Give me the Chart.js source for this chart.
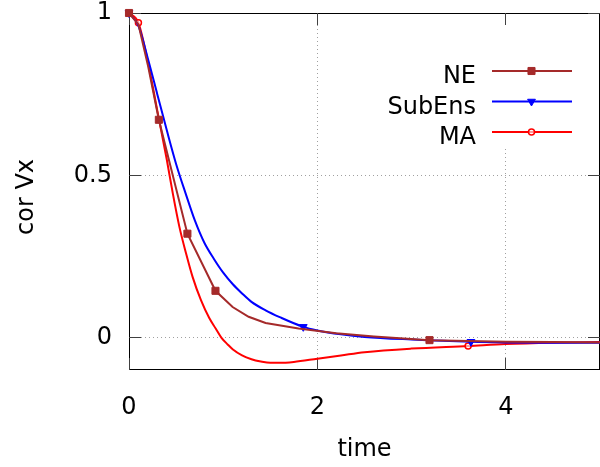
<!DOCTYPE html>
<html><head><meta charset="utf-8">
<script src="https://cdn.jsdelivr.net/npm/chart.js@4"></script>
<style>html,body{margin:0;padding:0;background:#fff}#c{display:block}</style>
</head><body>
<canvas id="c" width="600" height="467"></canvas>
<script>
// ---- data ----
const seriesNames = ['NE', 'SubEns', 'MA'];

const neTime = [0, 0.1, 0.2, 0.317, 0.62, 0.918, 1.1, 1.27, 1.45, 1.8, 2.2, 2.6, 3.19, 3.6, 4.0, 4.5, 5.0];
const neVal  = [1.0, 0.965, 0.84, 0.671, 0.32, 0.144, 0.094, 0.064, 0.045, 0.028, 0.013, 0.003, -0.008, -0.011, -0.013, -0.014, -0.015];
const neMarkers = [0, 3, 4, 5, 12];

const subTime = [0, 0.1, 0.2, 0.3, 0.4, 0.5, 0.6, 0.7, 0.8, 0.9, 1.0, 1.1, 1.2, 1.3, 1.45, 1.6, 1.85, 2.0, 2.25, 2.5, 3.0, 3.63, 4.0, 4.5, 5.0];
const subVal  = [1.0, 0.96, 0.86, 0.75, 0.64, 0.535, 0.445, 0.36, 0.292, 0.243, 0.2, 0.165, 0.136, 0.11, 0.084, 0.063, 0.033, 0.022, 0.01, 0.002, -0.006, -0.013, -0.015, -0.016, -0.016];
const subMarkers = [0, 16, 21];

const maTime = [0, 0.1, 0.2, 0.3, 0.4, 0.465, 0.535, 0.606, 0.675, 0.764, 0.852, 0.92, 0.98, 1.05, 1.1, 1.2, 1.3, 1.4, 1.5, 1.6, 1.75, 2.0, 2.25, 2.5, 3.0, 3.6, 4.0, 4.5, 5.0];
const maVal  = [1.0, 0.97, 0.85, 0.70, 0.55, 0.444, 0.341, 0.259, 0.187, 0.115, 0.06, 0.028, 0.0, -0.022, -0.036, -0.055, -0.067, -0.074, -0.078, -0.078, -0.075, -0.065, -0.055, -0.045, -0.034, -0.026, -0.02, -0.016, -0.014];
const maMarkers = [1, 25];

const xTicks = [0, 2, 4];
const yTicks = [0, 0.5, 1];
const xTitle = 'time';
const yTitle = 'cor Vx';

// ---- styling ----
const FONT = 'DejaVu Sans';
const colors = ['#a52a2a', '#0000ff', '#ff0000'];

function pts(t, v) { return t.map((x, i) => ({x: x, y: v[i]})); }
function radii(n, idx, r) { const a = new Array(n).fill(0); idx.forEach(i => a[i] = r); return a; }

const datasets = [
  {label: seriesNames[0], data: pts(neTime, neVal), borderColor: colors[0], backgroundColor: colors[0],
   borderWidth: 2, tension: 0, pointStyle: 'rect', pointRadius: radii(neTime.length, neMarkers, 5),
   pointBackgroundColor: colors[0], pointBorderColor: colors[0], pointBorderWidth: 1, clip: false},
  {label: seriesNames[1], data: pts(subTime, subVal), borderColor: colors[1], backgroundColor: colors[1],
   borderWidth: 2, cubicInterpolationMode: 'monotone', pointStyle: 'triangle', pointRotation: 180,
   pointRadius: radii(subTime.length, subMarkers, 4.5), pointBackgroundColor: colors[1], pointBorderColor: colors[1],
   pointBorderWidth: 1, clip: false},
  {label: seriesNames[2], data: pts(maTime, maVal), borderColor: colors[2], backgroundColor: colors[2],
   borderWidth: 2, cubicInterpolationMode: 'monotone', pointStyle: 'circle',
   pointRadius: radii(maTime.length, maMarkers, 3), pointBackgroundColor: 'rgba(255,255,255,0.6)', pointBorderColor: colors[2],
   pointBorderWidth: 1.5, clip: false}
];

function drawMarker(ctx, ds, x, y) {
  const r = Math.max.apply(null, ds.pointRadius);
  ctx.fillStyle = ds.pointBackgroundColor;
  ctx.strokeStyle = ds.pointBorderColor;
  ctx.lineWidth = ds.pointBorderWidth;
  if (Chart.helpers && Chart.helpers.drawPoint) {
    Chart.helpers.drawPoint(ctx, {pointStyle: ds.pointStyle, rotation: ds.pointRotation || 0, radius: r, borderWidth: ds.pointBorderWidth}, x, y);
  }
}

function noPad(s) { s.paddingTop = 0; s.paddingBottom = 0; s.paddingLeft = 0; s.paddingRight = 0; }

const framePlugin = {
  id: 'frame',
  beforeDatasetsDraw(chart) {
    const {ctx, chartArea: a, scales: {x, y}} = chart;
    ctx.save();
    // dotted grid
    ctx.strokeStyle = '#a0a0a0'; ctx.lineWidth = 1; ctx.setLineDash([1, 3]);
    xTicks.forEach(v => {
      const px = Math.floor(x.getPixelForValue(v)) + 0.5;
      if (px <= a.left + 1 || px >= a.right - 1) return;
      ctx.beginPath(); ctx.moveTo(px, a.top); ctx.lineTo(px, a.bottom); ctx.stroke();
    });
    yTicks.forEach(v => {
      const py = Math.floor(y.getPixelForValue(v)) + 0.5;
      if (py <= a.top + 1 || py >= a.bottom - 1) return;
      ctx.beginPath(); ctx.moveTo(a.left, py); ctx.lineTo(a.right, py); ctx.stroke();
    });
    ctx.setLineDash([]);
    // opaque key box
    ctx.fillStyle = '#fff';
    ctx.fillRect(370, a.top + 1, a.right - 370, 146 - a.top);
    // border
    ctx.strokeStyle = '#000'; ctx.lineWidth = 1;
    ctx.strokeRect(a.left + 0.5, a.top + 0.5, a.right - a.left - 1, a.bottom - a.top - 1);
    // inward ticks, mirrored
    const TL = 12;
    ctx.strokeStyle = '#404040';
    xTicks.forEach(v => {
      const px = Math.floor(x.getPixelForValue(v)) + 0.5;
      ctx.beginPath(); ctx.moveTo(px, a.bottom); ctx.lineTo(px, a.bottom - TL);
      ctx.moveTo(px, a.top); ctx.lineTo(px, a.top + TL); ctx.stroke();
    });
    yTicks.forEach(v => {
      const py = Math.floor(y.getPixelForValue(v)) + 0.5;
      ctx.beginPath(); ctx.moveTo(a.left, py); ctx.lineTo(a.left + TL, py);
      ctx.moveTo(a.right, py); ctx.lineTo(a.right - TL, py); ctx.stroke();
    });
    // y title
    ctx.fillStyle = '#000';
    ctx.font = '24px "' + FONT + '"';
    ctx.translate(27, 197);
    ctx.rotate(-Math.PI / 2);
    ctx.textAlign = 'center'; ctx.textBaseline = 'middle';
    ctx.fillText(yTitle, 0, 0);
    ctx.restore();
  },
  afterDatasetsDraw(chart) {
    const {ctx} = chart;
    ctx.save();
    ctx.font = '24px "' + FONT + '"';
    ctx.textAlign = 'right'; ctx.textBaseline = 'alphabetic';
    chart.data.datasets.forEach((ds, i) => {
      const ly = 71 + 30.5 * i;
      ctx.fillStyle = '#000';
      ctx.fillText(ds.label, 476, ly + 12);
      ctx.strokeStyle = ds.borderColor; ctx.lineWidth = ds.borderWidth;
      ctx.beginPath(); ctx.moveTo(492, ly); ctx.lineTo(572, ly); ctx.stroke();
      drawMarker(ctx, ds, 531.5, ly);
    });
    ctx.restore();
  }
};

new Chart(document.getElementById('c'), {
  type: 'scatter',
  data: {datasets: datasets},
  options: {
    responsive: false, animation: false, devicePixelRatio: 1,
    showLine: true,
    layout: {autoPadding: false, padding: {top: 13, right: -3, left: 0, bottom: 0}},
    plugins: {legend: {display: false}, tooltip: {enabled: false}},
    scales: {
      x: {
        type: 'linear', min: 0, max: 5,
        afterBuildTicks: s => { s.ticks = xTicks.map(v => ({value: v})); },
        afterFit: s => { s.height = 97; noPad(s); },
        grid: {display: false, drawTicks: false},
        border: {display: false},
        ticks: {font: {family: FONT, size: 24}, color: '#000', padding: 23, maxRotation: 0,
                callback: v => String(v)},
        title: {display: true, text: xTitle, font: {family: FONT, size: 24}, color: '#000', padding: {top: 0, bottom: 3}}
      },
      y: {
        type: 'linear', min: -0.1, max: 1,
        afterBuildTicks: s => { s.ticks = yTicks.map(v => ({value: v})); },
        afterFit: s => { s.width = 129; noPad(s); },
        grid: {display: false, drawTicks: false},
        border: {display: false},
        ticks: {font: {family: FONT, size: 24}, color: '#000', padding: 17,
                callback: v => String(v)}
      }
    }
  },
  plugins: [framePlugin]
});
</script>
</body></html>
